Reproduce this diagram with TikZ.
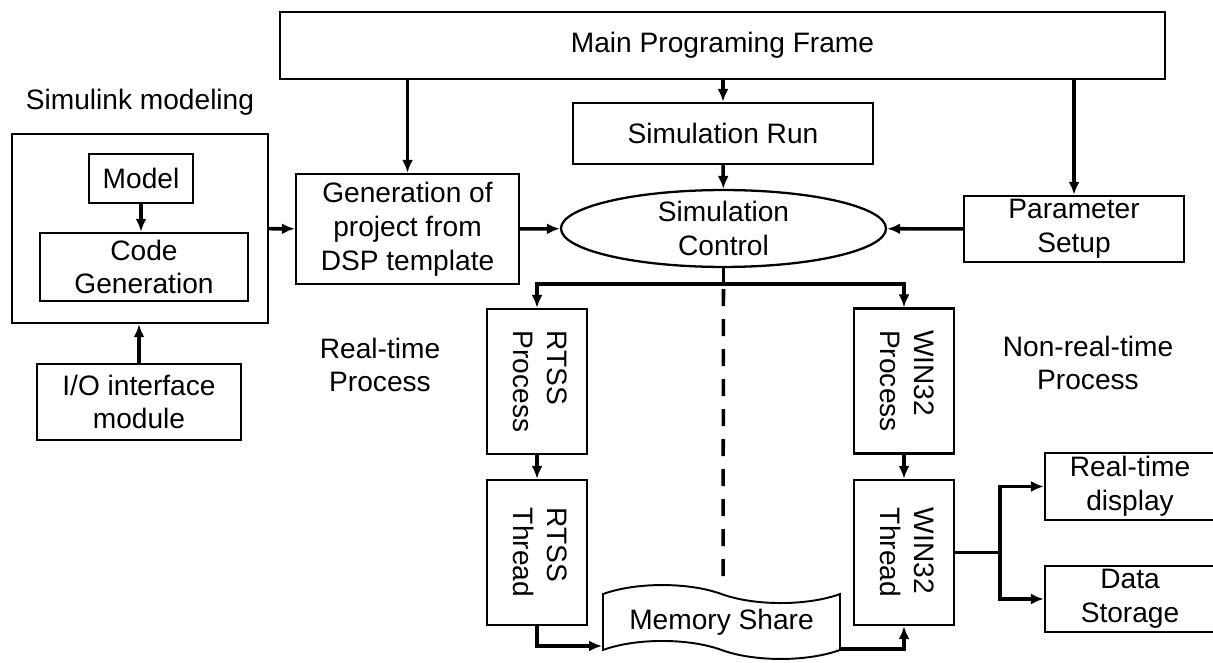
\documentclass[tikz,border=0pt]{standalone}
\usepackage{fontspec}
\setmainfont{Liberation Sans}
\usepackage{graphicx}
\usepackage{tikz}
\usetikzlibrary{shapes.geometric, shapes.symbols, arrows.meta, positioning}

\begin{document}
\begin{tikzpicture}[font=\fontsize{16}{19.2}\selectfont]
\tikzstyle{block} = [rectangle, draw=black, line width=1.3pt, text centered, align=center, inner sep=2pt]
\tikzstyle{vblock} = [block, minimum width=2cm, minimum height=2.9cm]
\tikzstyle{label} = [align=center]
\tikzstyle{arrow} = [line width=2pt,->,>={Latex[length=2.6mm,width=2.2mm]}]

\useasboundingbox (0,0) rectangle (24.26,-13.26);

% Main frame and top row
\node (main) [block, minimum width=17.7cm, minimum height=1.34cm] at (14.45,-0.91) {Main Programing Frame};
\node (simrun) [block, minimum width=6cm, minimum height=1.22cm] at (14.46,-2.67) {Simulation Run};
\node (simctrl) [ellipse, draw=black, line width=1.3pt, minimum width=6.5cm, minimum height=1.42cm, inner sep=0pt, align=center] at (14.47,-4.57) {Simulation\\Control};
\node (gen) [block, minimum width=4.46cm, minimum height=2.2cm] at (8.15,-4.58) {Generation of\\project from\\DSP template};
\node (param) [block, minimum width=4.4cm, minimum height=1.32cm] at (21.48,-4.58) {Parameter\\Setup};

% Simulink side
\node (simlabel) [label] at (2.8,-2.04) {Simulink modeling};
\node (simulink) [block, minimum width=5.12cm, minimum height=3.78cm] at (2.8,-4.57) {};
\node (model) [block, minimum width=2.08cm, minimum height=0.98cm] at (2.82,-3.57) {Model};
\node (codegen) [block, minimum width=4.16cm, minimum height=1.36cm] at (2.88,-5.34) {Code\\Generation};
\node (io) [block, minimum width=4.08cm, minimum height=1.52cm] at (2.78,-8.04) {I/O interface\\module};

% Real-time / non-real-time
\node (rtlabel) [label] at (7.6,-7.3) {Real-time\\Process};
\node (nrtlabel) [label] at (21.76,-7.26) {Non-real-time\\Process};
\node (rtssp) [vblock] at (10.74,-7.63) {\rotatebox{-90}{\begin{tabular}{@{}l@{}}RTSS\\Process\end{tabular}}};
\node (rtsst) [vblock] at (10.74,-11.05) {\rotatebox{-90}{\begin{tabular}{@{}l@{}}RTSS\\Thread\end{tabular}}};
\node (winp) [vblock] at (18.08,-7.62) {\rotatebox{-90}{\begin{tabular}{@{}l@{}}WIN32\\Process\end{tabular}}};
\node (wint) [vblock] at (18.08,-11.05) {\rotatebox{-90}{\begin{tabular}{@{}l@{}}WIN32\\Thread\end{tabular}}};
\node (mem) [tape, draw=black, line width=1.1pt, minimum width=4.74cm, minimum height=1.3cm, tape bend height=0.36cm, tape bend top=out and in, tape bend bottom=out and in] at (14.43,-12.44) {Memory Share};
\node (rtdisp) [block, minimum width=3.4cm, minimum height=1.3cm] at (22.6,-9.73) {Real-time\\display};
\node (data) [block, minimum width=3.4cm, minimum height=1.28cm] at (22.6,-11.98) {Data\\Storage};
\coordinate (dashend) at (14.46,-11.7);

% Connections
\draw [arrow] (gen.north |- main.south) -- (gen.north);
\draw [arrow] (simrun.north |- main.south) -- (simrun.north);
\draw [arrow] (param.north |- main.south) -- (param.north);
\draw [arrow] (simrun) -- (simctrl);
\draw [arrow] (model) -- (model |- codegen.north);
\draw [arrow] (io.north) -- (io.north |- simulink.south);
\draw [arrow] (simulink) -- (gen);
\draw [arrow] (gen) -- (simctrl);
\draw [arrow] (param) -- (simctrl);
\draw [arrow] (simctrl.south) -- ++(0,-0.32) -| (rtssp.north);
\draw [arrow] (simctrl.south) -- ++(0,-0.32) -| (winp.north);
\draw [line width=2pt, dash pattern=on 0.34cm off 0.26cm, dash phase=-0.1cm] ([yshift=-0.32cm]simctrl.south) -- (dashend);
\draw [arrow] (rtssp) -- (rtsst);
\draw [arrow] (winp) -- (wint);
\draw [arrow] (rtsst.south) |- ([yshift=-0.48cm]mem.west);
\draw [arrow] ([yshift=-0.54cm]mem.east) -| (wint.south);
\draw [arrow] (wint.east) -- ++(0.9,0) |- (rtdisp.west);
\draw [arrow] ([xshift=0.9cm]wint.east) |- (data.west);

\end{tikzpicture}
\end{document}
